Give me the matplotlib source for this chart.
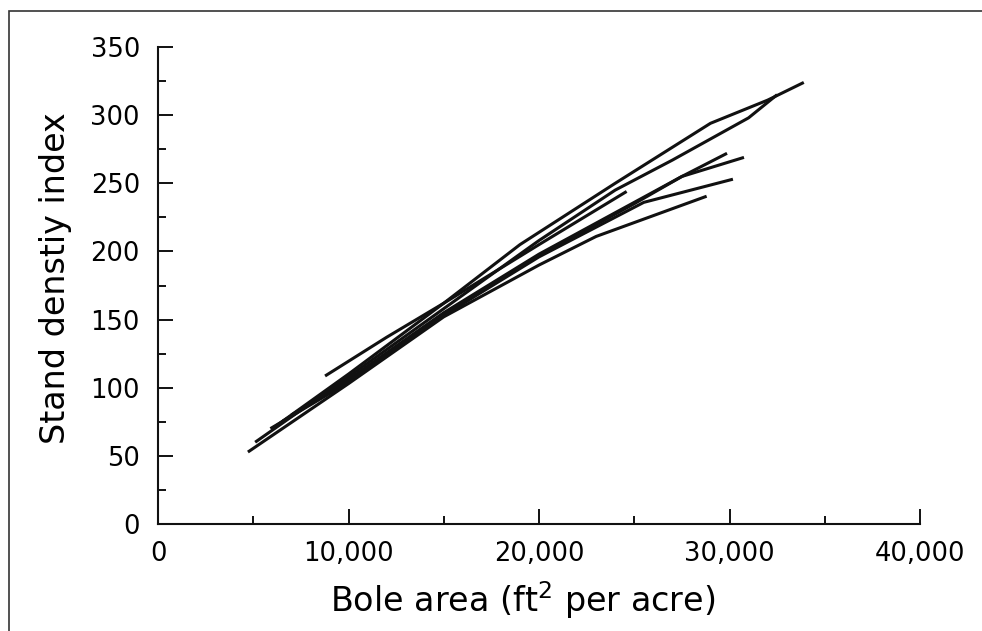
import matplotlib.pyplot as plt
from matplotlib.patches import Rectangle
from matplotlib.ticker import MultipleLocator, FuncFormatter

# bole area (ft2 per acre) vs stand density index, one list pair per stand
l1_x = [6000, 10000, 15000, 19000, 24000, 29000, 32000, 33900]
l1_y = [70, 110, 162, 205, 250, 294, 311, 324]
l2_x = [5100, 10000, 15000, 20000, 24000, 27000, 31000, 32500]
l2_y = [60, 108, 158, 208, 245, 267, 298, 315]
l3_x = [8770, 12000, 15000, 20000, 24600]
l3_y = [108.6, 137, 162, 205, 244]
l4_x = [6500, 10000, 15000, 20000, 25000, 27500, 29870]
l4_y = [75, 106, 155, 198, 236, 255, 272]
l5_x = [7000, 10000, 15000, 20000, 25000, 27500, 30760]
l5_y = [80, 105, 154, 197, 235, 255, 269]
l6_x = [5900, 10000, 15000, 20000, 25500, 30180]
l6_y = [70, 104, 153, 196, 236, 253]
l7_x = [4720, 10000, 15000, 20000, 23000, 28800]
l7_y = [52.8, 103, 152, 190, 211, 240.5]

lines = [(l1_x, l1_y), (l2_x, l2_y), (l3_x, l3_y), (l4_x, l4_y),
         (l5_x, l5_y), (l6_x, l6_y), (l7_x, l7_y)]

plt.rcParams['font.family'] = 'DejaVu Sans'
plt.rcParams['mathtext.fontset'] = 'dejavusans'

fig = plt.figure(figsize=(9.82, 6.31), dpi=100)
ax = fig.add_axes([158 / 982, 1 - 524 / 631, 762 / 982, 477 / 631])

# frame around the figure (top and left edges visible)
fig.patches.append(Rectangle((9 / 982, -0.1), 1.2, 1 - 11 / 631 + 0.1,
                             transform=fig.transFigure, fill=False,
                             edgecolor='#333333', linewidth=1.2))

for xs, ys in lines:
    ax.plot(xs, ys, color='#111111', linewidth=2.2, solid_capstyle='butt')

ax.set_xlim(0, 40000)
ax.set_ylim(0, 350)
for side in ['top', 'right']:
    ax.spines[side].set_visible(False)
for side in ['left', 'bottom']:
    ax.spines[side].set_linewidth(1.5)
    ax.spines[side].set_color('#111111')

ax.xaxis.set_major_locator(MultipleLocator(10000))
ax.xaxis.set_minor_locator(MultipleLocator(5000))
ax.yaxis.set_major_locator(MultipleLocator(50))
ax.yaxis.set_minor_locator(MultipleLocator(25))
ax.xaxis.set_major_formatter(FuncFormatter(lambda v, p: f'{int(v):,}'))

ax.tick_params(which='major', direction='in', length=11, width=1.4, color='#111111', labelsize=18.5)
ax.tick_params(which='minor', direction='in', length=5.5, width=1.4, color='#111111')
ax.tick_params(axis='x', which='major', pad=12)
ax.tick_params(axis='y', which='major', pad=13)

ax.set_xlabel(r'Bole area (ft$^2$ per acre)', fontsize=24)
ax.set_ylabel('Stand denstiy index', fontsize=24)
ax.xaxis.set_label_coords(0.478, -0.115)
ax.yaxis.set_label_coords(-0.113, 0.515)

fig.savefig('out.png', dpi=100)
